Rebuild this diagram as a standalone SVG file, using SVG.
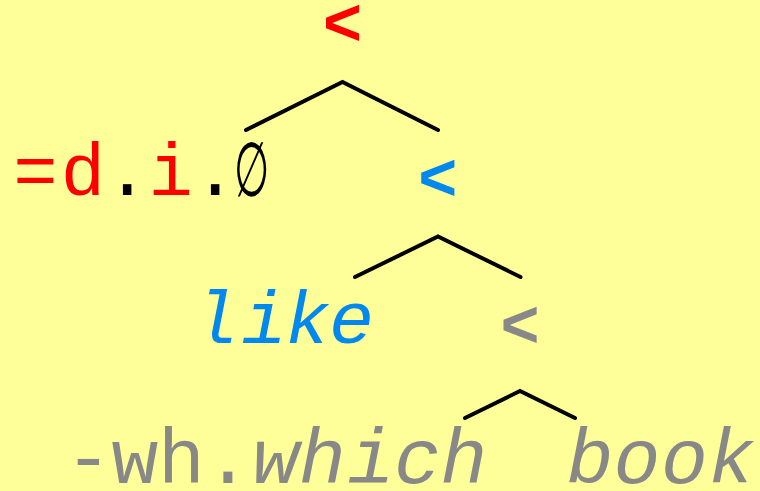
<svg xmlns="http://www.w3.org/2000/svg" width="760" height="491" viewBox="0 0 760 491">
  <style>
    .op { font-family: "Liberation Sans", Arial, sans-serif; font-weight: bold; font-size: 66px; text-anchor: middle; }
    .mono { font-family: "Courier New", "Nimbus Mono PS", "FreeMono", "Liberation Mono", monospace; text-anchor: middle; }
    .it { font-style: italic; }
    .red { fill: #ff0000; }
    .blue { fill: #0088ee; }
    .gray { fill: #888888; }
    .blk { fill: #000000; }
    .edge { fill: none; stroke: #000000; stroke-width: 4; stroke-linecap: round; stroke-linejoin: miter; }
  </style>
  <rect x="0" y="0" width="760" height="491" fill="#ffff99"/>
  <g id="connectors">
    <polyline class="edge" points="246,130 342.5,82 438,130"/>
    <polyline class="edge" points="355,277 438,236.5 520.5,277"/>
    <polyline class="edge" points="465,418 520,391 575,418"/>
  </g>
  <g id="root">
    <text class="op red" x="342.5" y="45">&lt;</text>
  </g>
  <g id="det">
    <text class="mono" font-size="74" y="195"><tspan class="red" x="35.5">=</tspan><tspan class="red" x="83">d</tspan><tspan class="blk" x="127.2">.</tspan><tspan class="red" x="170.8">i</tspan><tspan class="blk" x="215.3">.</tspan></text>
    <text class="blk" font-family="'DejaVu Serif', 'Liberation Serif', serif" font-size="72" x="0" y="0" text-anchor="middle" transform="translate(251.7,196) scale(0.56,1.05)">∅</text>
  </g>
  <g id="n2">
    <text class="op blue" x="437.7" y="199.5">&lt;</text>
  </g>
  <g id="like">
    <text class="mono it blue" font-size="75" y="343"><tspan x="216">l</tspan><tspan x="264">i</tspan><tspan x="307.5">k</tspan><tspan x="351.5">e</tspan></text>
  </g>
  <g id="n3">
    <text class="op gray" x="520" y="347">&lt;</text>
  </g>
  <g id="which">
    <text class="mono gray" font-size="78" y="483"><tspan x="88.5">-</tspan><tspan x="135">w</tspan><tspan x="181.5">h</tspan><tspan x="228">.</tspan><tspan class="it" x="276">w</tspan><tspan class="it" x="322.5">h</tspan><tspan class="it" x="371">i</tspan><tspan class="it" x="417.5">c</tspan><tspan class="it" x="464">h</tspan></text>
  </g>
  <g id="book">
    <text class="mono it gray" font-size="78" y="483"><tspan x="590">b</tspan><tspan x="637">o</tspan><tspan x="684.5">o</tspan><tspan x="731.5">k</tspan></text>
  </g>
</svg>
